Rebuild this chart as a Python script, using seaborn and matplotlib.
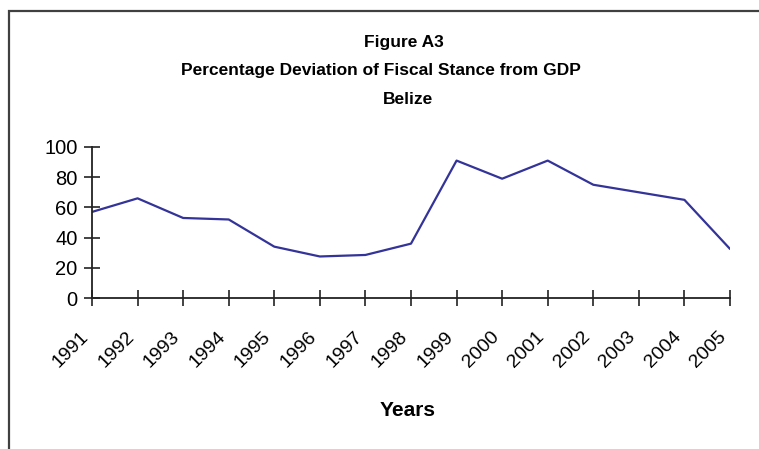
import matplotlib
matplotlib.use("Agg")
import matplotlib.pyplot as plt
import seaborn as sns
import pandas as pd
from matplotlib.patches import Rectangle
from matplotlib.transforms import ScaledTranslation

# Percentage deviation of fiscal stance from GDP, Belize
years = [1991, 1992, 1993, 1994, 1995, 1996, 1997, 1998, 1999,
         2000, 2001, 2002, 2003, 2004, 2005]
deviation = [57, 66, 53, 52, 34, 27.5, 28.5, 36, 91,
             79, 91, 75, 70, 65, 32.5]
y_ticks = [0, 20, 40, 60, 80, 100]
title_lines = ["Figure A3",
               "Percentage Deviation of Fiscal Stance from GDP",
               "Belize"]
x_label = "Years"

df = pd.DataFrame({"Year": years, "Deviation": deviation})

sns.set_theme(style="white")
plt.rcParams["font.family"] = ["Liberation Sans", "DejaVu Sans"]

W, H = 759, 449
fig = plt.figure(figsize=(W / 100, H / 100), dpi=100)
fig.patch.set_facecolor("white")

ax = fig.add_axes([92 / W, 1 - 298 / H, (730 - 92) / W, (298 - 147) / H])
sns.lineplot(data=df, x="Year", y="Deviation", ax=ax,
             color="#333399", linewidth=1.6)

ax.set_xlim(years[0], years[-1])
ax.set_ylim(0, 100)
ax.set_xticks(years)
ax.set_xticklabels([str(y) for y in years], rotation=45, ha="right",
                   rotation_mode="anchor", fontsize=14, color="black")
ax.set_yticks(y_ticks)
ax.set_yticklabels([str(v) for v in y_ticks], fontsize=14.5, color="black")
ax.set_xlabel("")
ax.set_ylabel("")

for side in ("top", "right"):
    ax.spines[side].set_visible(False)
for side in ("left", "bottom"):
    ax.spines[side].set_color("#222222")
    ax.spines[side].set_linewidth(1.3)

ax.tick_params(axis="both", which="major", bottom=True, left=True,
               direction="inout", length=11, width=1.2, color="#222222")
ax.tick_params(axis="x", pad=16)
ax.tick_params(axis="y", pad=5)
ax.set_facecolor("white")

# Shift the slanted year labels so they sit just left of their ticks
shift = ScaledTranslation(-12 / 100, 0, fig.dpi_scale_trans)
for lbl in ax.get_xticklabels():
    lbl.set_transform(lbl.get_transform() + shift)

# Titles and axis label
bold_family = ["Liberation Sans", "DejaVu Sans"]
fig.text(404 / W, 1 - 42 / H, title_lines[0], ha="center", va="center",
         fontsize=12.5, fontweight="bold", color="black", family=bold_family)
fig.text(381 / W, 1 - 70 / H, title_lines[1], ha="center", va="center",
         fontsize=12.5, fontweight="bold", color="black", family=bold_family)
fig.text(408 / W, 1 - 99 / H, title_lines[2], ha="center", va="center",
         fontsize=12.5, fontweight="bold", color="black", family=bold_family)
fig.text(408 / W, 1 - 411 / H, x_label, ha="center", va="center",
         fontsize=15, fontweight="bold", color="black", family=bold_family)

# Chart frame running off the right and bottom edges
fig.patches.append(Rectangle((9 / W, -0.1), 1.2, 1 - 11 / H + 0.1,
                             transform=fig.transFigure, fill=False,
                             edgecolor="#404040", linewidth=1.6))

fig.savefig("out.png", dpi=100, facecolor="white")
